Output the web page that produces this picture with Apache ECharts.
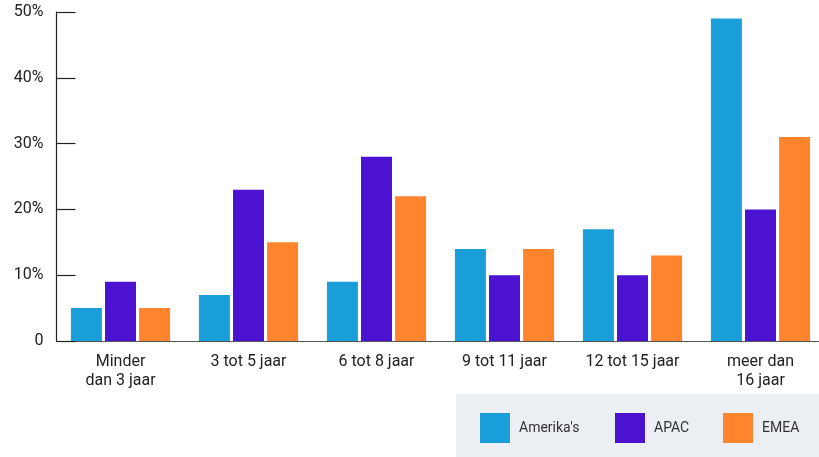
<!DOCTYPE html>
<html>
<head>
<meta charset="utf-8">
<script src="https://cdn.jsdelivr.net/npm/echarts@6/dist/echarts.min.js"></script>
<style>
  html, body { margin: 0; padding: 0; background: #fff; overflow: hidden; }
  #chart { width: 830px; height: 457px; }
</style>
</head>
<body>
<div id="chart"></div>
<script>
// Tenure bands (x axis)
const categories = ['Minder\ndan 3 jaar', '3 tot 5 jaar', '6 tot 8 jaar', '9 tot 11 jaar', '12 tot 15 jaar', 'meer dan\n16 jaar'];
// Share per region, in percent
const amerikas = [5, 7, 9, 14, 17, 49];
const apac = [9, 23, 28, 10, 10, 20];
const emea = [5, 15, 22, 14, 13, 31];
const seriesNames = ["Amerika's", 'APAC', 'EMEA'];
const colors = ['#1a9ed9', '#4b12d2', '#fe842d'];
const legendLeft = [480, 615, 723];

const chart = echarts.init(document.getElementById('chart'), null, { renderer: 'canvas' });

const labelFont = { fontFamily: 'Roboto', fontSize: 16, color: '#222' };

chart.setOption({
  animation: false,
  color: colors,
  grid: { left: 56.5, top: 12, width: 768, height: 329, containLabel: false },
  graphic: [{
    type: 'rect',
    left: 456, top: 394,
    shape: { width: 380, height: 63 },
    style: { fill: '#ebeef3' },
    z: -1
  }],
  legend: seriesNames.map((name, i) => ({
    data: [name],
    left: legendLeft[i],
    top: 413,
    padding: 0,
    itemWidth: 30,
    itemHeight: 30,
    icon: 'rect',
    textStyle: { fontFamily: 'Roboto', fontSize: 14, color: '#333', padding: [0, 0, 0, 4] }
  })),
  xAxis: {
    type: 'category',
    data: categories,
    axisLine: { lineStyle: { color: '#555', width: 1 } },
    axisTick: { show: false },
    axisLabel: Object.assign({ margin: 11, lineHeight: 19, interval: 0 }, labelFont)
  },
  yAxis: {
    type: 'value',
    min: 0, max: 50, interval: 10,
    axisLine: { show: true, lineStyle: { color: '#222', width: 1.2 } },
    axisTick: { show: true, inside: true, length: 19, lineStyle: { color: '#222', width: 1.2 } },
    splitLine: { show: false },
    axisLabel: Object.assign({ margin: 13, formatter: v => v === 0 ? '0' : v + '%' }, labelFont)
  },
  series: [
    { name: seriesNames[0], type: 'bar', data: amerikas, barWidth: 31, barGap: '10%' },
    { name: seriesNames[1], type: 'bar', data: apac, barWidth: 31, barGap: '10%' },
    { name: seriesNames[2], type: 'bar', data: emea, barWidth: 31, barGap: '10%' }
  ]
});
</script>
</body>
</html>
